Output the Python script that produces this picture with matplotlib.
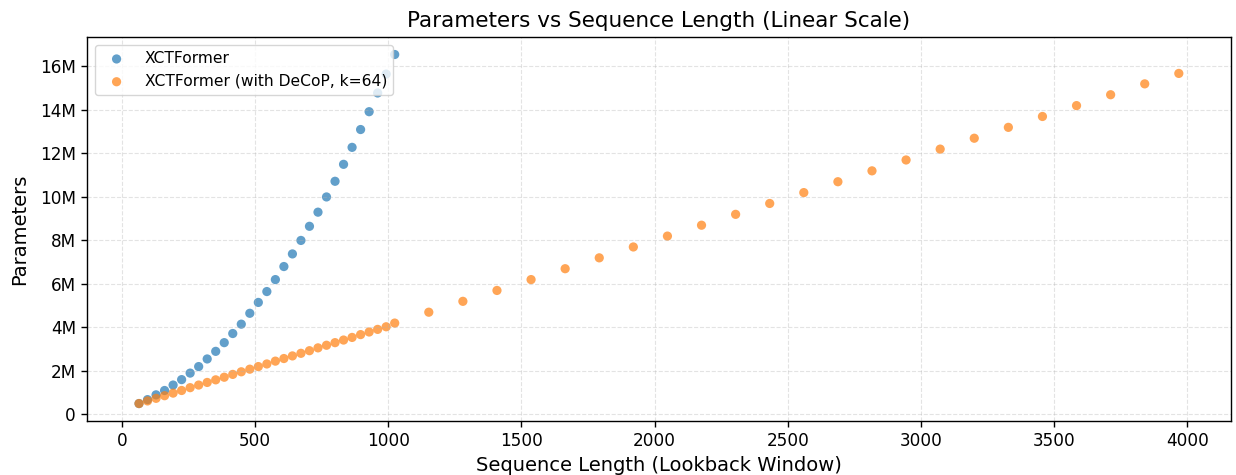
import matplotlib
matplotlib.use("Agg")
import matplotlib.pyplot as plt
from matplotlib.ticker import FuncFormatter

seq_blue = [64, 96, 128, 160, 192, 224, 256, 288, 320, 352, 384, 416, 448, 480, 512,
            544, 576, 608, 640, 672, 704, 736, 768, 800, 832, 864, 896, 928, 960, 992, 1024]
params_blue_m = [0.5, 0.68, 0.9, 1.1, 1.35, 1.6, 1.9, 2.2, 2.55, 2.9, 3.3, 3.72, 4.15, 4.65,
                 5.15, 5.65, 6.2, 6.8, 7.38, 8.0, 8.65, 9.3, 10.0, 10.72, 11.5, 12.28, 13.1,
                 13.92, 14.78, 15.65, 16.55]

seq_orange = [64, 96, 128, 160, 192, 224, 256, 288, 320, 352, 384, 416, 448, 480, 512,
              544, 576, 608, 640, 672, 704, 736, 768, 800, 832, 864, 896, 928, 960, 992, 1024,
              1152, 1280, 1408, 1536, 1664, 1792, 1920, 2048, 2176, 2304, 2432, 2560, 2688,
              2816, 2944, 3072, 3200, 3328, 3456, 3584, 3712, 3840, 3968]
params_orange_m = [0.5, 0.62, 0.74, 0.86, 0.98, 1.1, 1.23, 1.35, 1.47, 1.59, 1.71, 1.84, 1.96,
                   2.08, 2.2, 2.32, 2.45, 2.57, 2.69, 2.81, 2.93, 3.06, 3.18, 3.3, 3.42, 3.54,
                   3.67, 3.79, 3.91, 4.03, 4.2,
                   4.7, 5.2, 5.7, 6.2, 6.7, 7.2, 7.7, 8.2, 8.7, 9.2, 9.7, 10.2, 10.7, 11.2,
                   11.7, 12.2, 12.7, 13.2, 13.7, 14.2, 14.7, 15.2, 15.68]

label_blue = "XCTFormer"
label_orange = "XCTFormer (with DeCoP, k=64)"


def fmt_millions(v, p):
    if abs(v) < 1e-9:
        return "0"
    return f"{v/1e6:.0f}M"


fig, ax = plt.subplots(figsize=(12.36, 4.75), dpi=100)
fig.subplots_adjust(left=0.0704, right=0.9958, top=0.922, bottom=0.1137)

ax.scatter(seq_blue, [v * 1e6 for v in params_blue_m], s=44, alpha=0.7,
           color="#1f77b4", edgecolors="none", label=label_blue)
ax.scatter(seq_orange, [v * 1e6 for v in params_orange_m], s=44, alpha=0.7,
           color="#ff7f0e", edgecolors="none", label=label_orange)

ax.yaxis.set_major_formatter(FuncFormatter(fmt_millions))
ax.set_title("Parameters vs Sequence Length (Linear Scale)", fontsize=15.5, pad=7)
ax.set_xlabel("Sequence Length (Lookback Window)", fontsize=14, labelpad=4)
ax.set_ylabel("Parameters", fontsize=14, labelpad=8)
ax.tick_params(labelsize=12.2, length=4.5, width=1.0)
for sp in ax.spines.values():
    sp.set_linewidth(1.0)
ax.grid(True, linestyle="--", alpha=0.35)
ax.legend(loc="upper left", fontsize=11.2)

fig.savefig("out.png", dpi=100)
